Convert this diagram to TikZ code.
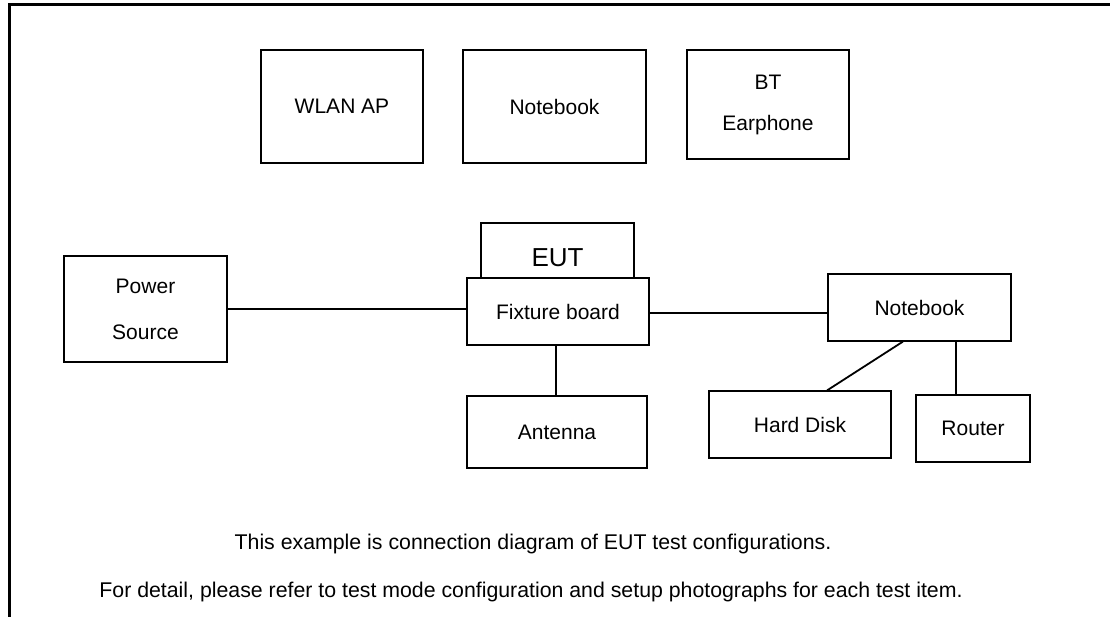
\documentclass[tikz,border=0pt]{standalone}
\usepackage{fontspec}
\setmainfont{Liberation Sans}
\usetikzlibrary{calc}
\begin{document}
\begin{tikzpicture}[x=1bp,y=-1bp,
  box/.style={draw, line width=1.1bp, fill=white, inner sep=0pt, align=center,
    font=\fontsize{21bp}{44bp}\selectfont},
  wire/.style={line width=1.8bp},
  note/.style={anchor=base, inner sep=0pt, font=\fontsize{21.3bp}{25bp}\selectfont}]
\useasboundingbox (0,0) rectangle (1110,617);
\draw[line width=2.7bp] (9.5,617) -- (9.5,4.5) -- (1110,4.5);
% top row
\node[box, minimum width=162bp, minimum height=113bp] (wlan) at (342,106.5) {WLAN AP};
\node[box, minimum width=183bp, minimum height=113bp] (nb1) at (554.5,106.5) {Notebook};
\node[box, minimum width=162bp, minimum height=109bp, font=\fontsize{21bp}{41bp}\selectfont] (bt) at (768,104.5) {BT\\Earphone};
% middle
\node[box, minimum width=163bp, minimum height=106bp, font=\fontsize{21bp}{46bp}\selectfont] (power) at (145.5,309) {Power\\Source};
\node[box, minimum width=153bp, minimum height=70bp, font=\fontsize{26bp}{30bp}\selectfont] (eut) at (557.5,258) {EUT};
\node[box, minimum width=182bp, minimum height=67bp] (fixture) at (558,311.5) {Fixture board};
\node[box, minimum width=180bp, minimum height=72bp] (ant) at (557,432) {Antenna};
\node[box, minimum width=183bp, minimum height=67bp] (nb2) at (919.5,307.5) {Notebook};
\node[box, minimum width=182bp, minimum height=67bp] (hd) at (800,424.5) {Hard Disk};
\node[box, minimum width=114bp, minimum height=67bp] (router) at (973,428.5) {Router};
% connectors
\draw[wire] (power.east) -- (power.east -| fixture.west);
\draw[wire] ([yshift=-1.5bp]fixture.east) -- ([yshift=-1.5bp]fixture.east -| nb2.west);
\draw[wire] ([xshift=-2bp]fixture.south) -- ([xshift=-2bp]fixture.south |- ant.north);
\draw[wire] ([xshift=-16.5bp]nb2.south) -- ([xshift=27bp]hd.north);
\draw[wire] ([xshift=-17bp]router.north) -- ([xshift=-17bp]router.north |- nb2.south);
% notes
\node[note] (n1) at (533,549) {This example is connection diagram of EUT test configurations.};
\node[note] (n2) at (531,597) {For detail, please refer to test mode configuration and setup photographs for each test item.};
\end{tikzpicture}
\end{document}
